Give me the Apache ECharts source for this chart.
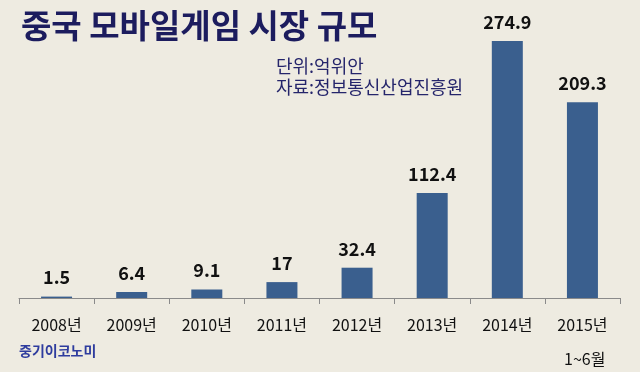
<!DOCTYPE html>
<html>
<head>
<meta charset="utf-8">
<script src="https://cdn.jsdelivr.net/npm/echarts@6/dist/echarts.min.js"></script>
<style>html,body{margin:0;padding:0;background:#EEEBE1;}#c{width:640px;height:372px;}</style>
</head>
<body>
<div id="c"></div>
<script>
const categories = ['2008년','2009년','2010년','2011년','2012년','2013년','2014년','2015년'];
const values = [1.5, 6.4, 9.1, 17, 32.4, 112.4, 274.9, 209.3];
const titleText = '중국 모바일게임 시장 규모';
const noteLines = ['단위:억위안', '자료:정보통신산업진흥원'];
const sourceText = '중기이코노미';
const periodNote = '1~6월';

const FONT = '"Noto Sans CJK KR", "Noto Sans", sans-serif';
const chart = echarts.init(document.getElementById('c'));
chart.setOption({
  backgroundColor: '#EEEBE1',
  animation: false,
  title: [
    {text: titleText, left: 16, top: 4,
     textStyle: {fontFamily: FONT, fontSize: 33, fontWeight: 'bold', color: '#1C1C5E'}},
    {text: noteLines.join('\n'), left: 271, top: 51,
     textStyle: {fontFamily: FONT, fontSize: 18, fontWeight: 'normal', color: '#25256B', lineHeight: 21}},
    {text: sourceText, left: 14, top: 339,
     textStyle: {fontFamily: FONT, fontSize: 14, fontWeight: 'bold', color: '#2E3C9E'}},
    {text: periodNote, left: 559, top: 346,
     textStyle: {fontFamily: FONT, fontSize: 16, fontWeight: 'normal', color: '#111'}}
  ],
  grid: {left: 19, right: 20, top: 17.5, bottom: 74, containLabel: false},
  xAxis: {
    type: 'category',
    data: categories,
    boundaryGap: true,
    axisLine: {lineStyle: {color: '#8A8A8A', width: 1}},
    axisTick: {show: true, length: 6, lineStyle: {color: '#8A8A8A'}},
    axisLabel: {fontFamily: FONT, fontSize: 16, color: '#111', margin: 19}
  },
  yAxis: {
    type: 'value', min: 0, max: 300, show: false,
    splitLine: {show: false}
  },
  series: [{
    type: 'bar',
    data: values,
    barWidth: 31,
    itemStyle: {color: '#3A5F8E'},
    label: {show: true, position: 'top', distance: 10,
      fontFamily: FONT, fontSize: 18, fontWeight: 'bold', color: '#111'}
  }]
});
</script>
</body>
</html>
